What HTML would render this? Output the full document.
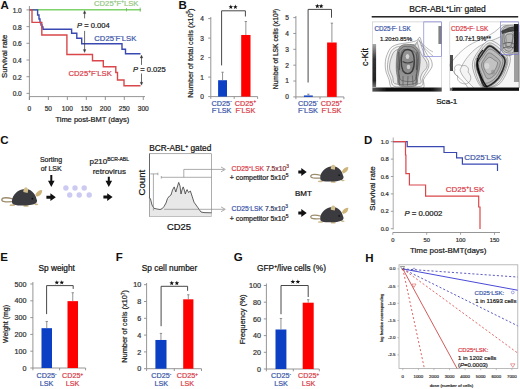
<!DOCTYPE html>
<html><head><meta charset="utf-8"><style>
html,body{margin:0;padding:0;background:#fff;}
body{width:520px;height:389px;overflow:hidden;}
svg{display:block;}
text{font-family:"Liberation Sans", sans-serif;}
</style></head><body>
<svg width="520" height="389" viewBox="0 0 520 389" font-family='"Liberation Sans", sans-serif'>
<text x="0.4" y="8.8" font-size="11.5" text-anchor="start" fill="#111" font-weight="bold" >A</text><line x1="29.4" y1="6" x2="29.4" y2="100" stroke="#8a8a8a" stroke-width="0.9" /><line x1="29.4" y1="96.6" x2="145" y2="96.6" stroke="#8a8a8a" stroke-width="0.9" /><line x1="26.5" y1="93.4" x2="29.4" y2="93.4" stroke="#8a8a8a" stroke-width="0.9" /><text x="21.8" y="96.30000000000001" font-size="6.6" text-anchor="end" fill="#333" font-weight="normal" stroke="#333" stroke-width="0.22" >0.0</text><line x1="26.5" y1="76.7" x2="29.4" y2="76.7" stroke="#8a8a8a" stroke-width="0.9" /><text x="21.8" y="79.60000000000001" font-size="6.6" text-anchor="end" fill="#333" font-weight="normal" stroke="#333" stroke-width="0.22" >0.2</text><line x1="26.5" y1="60.00000000000001" x2="29.4" y2="60.00000000000001" stroke="#8a8a8a" stroke-width="0.9" /><text x="21.8" y="62.900000000000006" font-size="6.6" text-anchor="end" fill="#333" font-weight="normal" stroke="#333" stroke-width="0.22" >0.4</text><line x1="26.5" y1="43.300000000000004" x2="29.4" y2="43.300000000000004" stroke="#8a8a8a" stroke-width="0.9" /><text x="21.8" y="46.2" font-size="6.6" text-anchor="end" fill="#333" font-weight="normal" stroke="#333" stroke-width="0.22" >0.6</text><line x1="26.5" y1="26.60000000000001" x2="29.4" y2="26.60000000000001" stroke="#8a8a8a" stroke-width="0.9" /><text x="21.8" y="29.500000000000007" font-size="6.6" text-anchor="end" fill="#333" font-weight="normal" stroke="#333" stroke-width="0.22" >0.8</text><line x1="26.5" y1="9.900000000000006" x2="29.4" y2="9.900000000000006" stroke="#8a8a8a" stroke-width="0.9" /><text x="21.8" y="12.800000000000006" font-size="6.6" text-anchor="end" fill="#333" font-weight="normal" stroke="#333" stroke-width="0.22" >1.0</text><line x1="29.4" y1="96.6" x2="29.4" y2="100" stroke="#8a8a8a" stroke-width="0.9" /><text x="29.4" y="111" font-size="6.6" text-anchor="middle" fill="#333" font-weight="normal" stroke="#333" stroke-width="0.22" >0</text><line x1="48.379999999999995" y1="96.6" x2="48.379999999999995" y2="100" stroke="#8a8a8a" stroke-width="0.9" /><text x="48.379999999999995" y="111" font-size="6.6" text-anchor="middle" fill="#333" font-weight="normal" stroke="#333" stroke-width="0.22" >50</text><line x1="67.36" y1="96.6" x2="67.36" y2="100" stroke="#8a8a8a" stroke-width="0.9" /><text x="67.36" y="111" font-size="6.6" text-anchor="middle" fill="#333" font-weight="normal" stroke="#333" stroke-width="0.22" >100</text><line x1="86.34" y1="96.6" x2="86.34" y2="100" stroke="#8a8a8a" stroke-width="0.9" /><text x="86.34" y="111" font-size="6.6" text-anchor="middle" fill="#333" font-weight="normal" stroke="#333" stroke-width="0.22" >150</text><line x1="105.32" y1="96.6" x2="105.32" y2="100" stroke="#8a8a8a" stroke-width="0.9" /><text x="105.32" y="111" font-size="6.6" text-anchor="middle" fill="#333" font-weight="normal" stroke="#333" stroke-width="0.22" >200</text><line x1="124.30000000000001" y1="96.6" x2="124.30000000000001" y2="100" stroke="#8a8a8a" stroke-width="0.9" /><text x="124.30000000000001" y="111" font-size="6.6" text-anchor="middle" fill="#333" font-weight="normal" stroke="#333" stroke-width="0.22" >250</text><line x1="143.28" y1="96.6" x2="143.28" y2="100" stroke="#8a8a8a" stroke-width="0.9" /><text x="143.28" y="111" font-size="6.6" text-anchor="middle" fill="#333" font-weight="normal" stroke="#333" stroke-width="0.22" >300</text><text x="92.3" y="121.6" font-size="7.5" text-anchor="middle" fill="#222" font-weight="normal" stroke="#222" stroke-width="0.22" >Time post-BMT (days)</text><text x="7" y="56.3" font-size="7.8" text-anchor="middle" fill="#222" font-weight="normal" stroke="#222" stroke-width="0.22" transform="rotate(-90 7 56.3)" >Survival rate</text><path d="M29.4 9.7 H141" stroke="#7ed36a" stroke-width="1.4" fill="none" /><line x1="140.2" y1="7.6" x2="140.2" y2="11.8" stroke="#6cb85a" stroke-width="0.8" /><line x1="126.5" y1="8" x2="126.5" y2="11.4" stroke="#6cb85a" stroke-width="0.8" /><path d="M29.4 9.9 H37.6 V15 H39 V19 H40 V22.5 H41 V25 H42 V27 H43 V29.2 H71.6 V33.3 H76.8 V38.2 H81.7 V43.7 H122 V49.2 H125.5 V53.7 H140.5" stroke="#3a48b2" stroke-width="1.4" fill="none" /><path d="M29.4 9.9 H32 V22.4 H41.8 V35 H66.9 V54.5 H92.5 V60.8 H103.3 V66.7 H115.8 V72.5 H117.5 V80 H124 V85.8 H140.5" stroke="#d9474a" stroke-width="1.4" fill="none" /><line x1="84.6" y1="12.1" x2="84.6" y2="18.4" stroke="#3a3a3a" stroke-width="0.75" /><line x1="84.6" y1="30.9" x2="84.6" y2="51.1" stroke="#3a3a3a" stroke-width="0.75" /><path d="M83.3 13.6 L84.6 10.6 L85.89999999999999 13.6 Z" stroke="#3a3a3a" stroke-width="0.3" fill="#3a3a3a" /><path d="M83.3 49.6 L84.6 52.6 L85.89999999999999 49.6 Z" stroke="#3a3a3a" stroke-width="0.3" fill="#3a3a3a" /><line x1="141.5" y1="56.5" x2="141.5" y2="64.9" stroke="#3a3a3a" stroke-width="0.75" /><line x1="141.5" y1="73.5" x2="141.5" y2="83.7" stroke="#3a3a3a" stroke-width="0.75" /><path d="M140.2 58 L141.5 55 L142.8 58 Z" stroke="#3a3a3a" stroke-width="0.3" fill="#3a3a3a" /><path d="M140.2 82.2 L141.5 85.2 L142.8 82.2 Z" stroke="#3a3a3a" stroke-width="0.3" fill="#3a3a3a" /><text x="77" y="28.4" font-size="7.6" text-anchor="start" fill="#222" font-weight="normal" stroke="#222" stroke-width="0.22" ><tspan font-style="italic">P</tspan> = 0.004</text><text x="133" y="72.2" font-size="7.6" text-anchor="start" fill="#222" font-weight="normal" stroke="#222" stroke-width="0.22" ><tspan font-style="italic">P</tspan> = 0.025</text><text x="94.0" y="6.1" font-size="7.7" text-anchor="start" fill="#96c886" font-weight="normal" stroke="#96c886" stroke-width="0.22" >CD25<tspan dy="-2.93" font-size="4.77">+</tspan><tspan dy="2.93">​</tspan>F<tspan dy="-2.93" font-size="4.77">+</tspan><tspan dy="2.93">​</tspan>LSK</text><text x="94.3" y="40.6" font-size="7.7" text-anchor="start" fill="#4058a8" font-weight="normal" stroke="#4058a8" stroke-width="0.22" >CD25<tspan dy="-2.93" font-size="4.77">-</tspan><tspan dy="2.93">​</tspan>F<tspan dy="-2.93" font-size="4.77">-</tspan><tspan dy="2.93">​</tspan>LSK</text><text x="68.5" y="75.5" font-size="7.7" text-anchor="start" fill="#d8404a" font-weight="normal" stroke="#d8404a" stroke-width="0.22" >CD25<tspan dy="-2.93" font-size="4.77">+</tspan><tspan dy="2.93">​</tspan>F<tspan dy="-2.93" font-size="4.77">-</tspan><tspan dy="2.93">​</tspan>LSK</text><text x="178.4" y="9.2" font-size="11.5" text-anchor="start" fill="#111" font-weight="bold" >B</text><line x1="210.8" y1="96.6" x2="210.8" y2="17" stroke="#8a8a8a" stroke-width="0.9" /><line x1="210.8" y1="96.6" x2="257.6" y2="96.6" stroke="#8a8a8a" stroke-width="0.9" /><line x1="210.8" y1="96.6" x2="210.8" y2="98.89999999999999" stroke="#8a8a8a" stroke-width="0.9" /><line x1="234.2" y1="96.6" x2="234.2" y2="98.89999999999999" stroke="#8a8a8a" stroke-width="0.9" /><line x1="257.6" y1="96.6" x2="257.6" y2="98.89999999999999" stroke="#8a8a8a" stroke-width="0.9" /><line x1="208.20000000000002" y1="96.6" x2="210.8" y2="96.6" stroke="#8a8a8a" stroke-width="0.9" /><text x="203.8" y="99.0" font-size="6.6" text-anchor="end" fill="#333" font-weight="normal" stroke="#333" stroke-width="0.22" >0</text><line x1="208.20000000000002" y1="77.1" x2="210.8" y2="77.1" stroke="#8a8a8a" stroke-width="0.9" /><text x="203.8" y="79.5" font-size="6.6" text-anchor="end" fill="#333" font-weight="normal" stroke="#333" stroke-width="0.22" >1</text><line x1="208.20000000000002" y1="57.599999999999994" x2="210.8" y2="57.599999999999994" stroke="#8a8a8a" stroke-width="0.9" /><text x="203.8" y="59.99999999999999" font-size="6.6" text-anchor="end" fill="#333" font-weight="normal" stroke="#333" stroke-width="0.22" >2</text><line x1="208.20000000000002" y1="38.099999999999994" x2="210.8" y2="38.099999999999994" stroke="#8a8a8a" stroke-width="0.9" /><text x="203.8" y="40.49999999999999" font-size="6.6" text-anchor="end" fill="#333" font-weight="normal" stroke="#333" stroke-width="0.22" >3</text><line x1="208.20000000000002" y1="18.599999999999994" x2="210.8" y2="18.599999999999994" stroke="#8a8a8a" stroke-width="0.9" /><text x="203.8" y="20.999999999999993" font-size="6.6" text-anchor="end" fill="#333" font-weight="normal" stroke="#333" stroke-width="0.22" >4</text><rect x="218.1" y="80.22" width="8.900000000000006" height="16.379999999999995" fill="#0b3fc4" /><line x1="222.55" y1="80.22" x2="222.55" y2="72.225" stroke="#777" stroke-width="0.8" /><line x1="221.35000000000002" y1="72.225" x2="223.75" y2="72.225" stroke="#777" stroke-width="0.8" /><rect x="241.2" y="34.97999999999999" width="9.300000000000011" height="61.620000000000005" fill="#ff0000" /><line x1="245.85" y1="34.97999999999999" x2="245.85" y2="21.52499999999999" stroke="#777" stroke-width="0.8" /><line x1="244.65" y1="21.52499999999999" x2="247.04999999999998" y2="21.52499999999999" stroke="#777" stroke-width="0.8" /><path d="M221.6 65.4 V10.8 H245.4 V16.5" stroke="#333" stroke-width="0.9" fill="none" /><polygon points="230.83,4.53 231.43,6.15 233.16,6.23 231.81,7.30 232.27,8.96 230.83,8.01 229.39,8.96 229.85,7.30 228.50,6.23 230.23,6.15" fill="#111"/><polygon points="235.37,4.53 235.97,6.15 237.70,6.23 236.35,7.30 236.81,8.96 235.37,8.01 233.93,8.96 234.39,7.30 233.04,6.23 234.77,6.15" fill="#111"/><text x="192.9" y="53.1" font-size="7.45" text-anchor="middle" fill="#222" font-weight="normal" stroke="#222" stroke-width="0.22" transform="rotate(-90 192.9 53.1)" >Number of total cells (x10<tspan dy="-2.83" font-size="4.62">5</tspan><tspan dy="2.83">​</tspan>)</text><line x1="295.9" y1="96.9" x2="295.9" y2="16" stroke="#8a8a8a" stroke-width="0.9" /><line x1="295.9" y1="96.9" x2="343.9" y2="96.9" stroke="#8a8a8a" stroke-width="0.9" /><line x1="295.9" y1="96.9" x2="295.9" y2="99.2" stroke="#8a8a8a" stroke-width="0.9" /><line x1="320" y1="96.9" x2="320" y2="99.2" stroke="#8a8a8a" stroke-width="0.9" /><line x1="343.9" y1="96.9" x2="343.9" y2="99.2" stroke="#8a8a8a" stroke-width="0.9" /><line x1="293.29999999999995" y1="96.9" x2="295.9" y2="96.9" stroke="#8a8a8a" stroke-width="0.9" /><text x="288.8" y="99.30000000000001" font-size="6.6" text-anchor="end" fill="#333" font-weight="normal" stroke="#333" stroke-width="0.22" >0</text><line x1="293.29999999999995" y1="81.04" x2="295.9" y2="81.04" stroke="#8a8a8a" stroke-width="0.9" /><text x="288.8" y="83.44000000000001" font-size="6.6" text-anchor="end" fill="#333" font-weight="normal" stroke="#333" stroke-width="0.22" >1</text><line x1="293.29999999999995" y1="65.18" x2="295.9" y2="65.18" stroke="#8a8a8a" stroke-width="0.9" /><text x="288.8" y="67.58000000000001" font-size="6.6" text-anchor="end" fill="#333" font-weight="normal" stroke="#333" stroke-width="0.22" >2</text><line x1="293.29999999999995" y1="49.32000000000001" x2="295.9" y2="49.32000000000001" stroke="#8a8a8a" stroke-width="0.9" /><text x="288.8" y="51.720000000000006" font-size="6.6" text-anchor="end" fill="#333" font-weight="normal" stroke="#333" stroke-width="0.22" >3</text><line x1="293.29999999999995" y1="33.46000000000001" x2="295.9" y2="33.46000000000001" stroke="#8a8a8a" stroke-width="0.9" /><text x="288.8" y="35.86000000000001" font-size="6.6" text-anchor="end" fill="#333" font-weight="normal" stroke="#333" stroke-width="0.22" >4</text><line x1="293.29999999999995" y1="17.60000000000001" x2="295.9" y2="17.60000000000001" stroke="#8a8a8a" stroke-width="0.9" /><text x="288.8" y="20.000000000000007" font-size="6.6" text-anchor="end" fill="#333" font-weight="normal" stroke="#333" stroke-width="0.22" >5</text><rect x="303.9" y="95.4726" width="8.900000000000034" height="1.4274000000000058" fill="#0b3fc4" /><line x1="308.35" y1="95.4726" x2="308.35" y2="94.2038" stroke="#777" stroke-width="0.8" /><line x1="307.15000000000003" y1="94.2038" x2="309.55" y2="94.2038" stroke="#777" stroke-width="0.8" /><rect x="327.1" y="42.50020000000001" width="9.599999999999966" height="54.3998" fill="#ff0000" /><line x1="331.9" y1="42.50020000000001" x2="331.9" y2="23.150999999999996" stroke="#777" stroke-width="0.8" /><line x1="330.7" y1="23.150999999999996" x2="333.09999999999997" y2="23.150999999999996" stroke="#777" stroke-width="0.8" /><path d="M308.1 82.5 V9.4 H331.5 V17.7" stroke="#333" stroke-width="0.9" fill="none" /><polygon points="317.33,3.73 317.93,5.35 319.66,5.43 318.31,6.50 318.77,8.16 317.33,7.21 315.89,8.16 316.35,6.50 315.00,5.43 316.73,5.35" fill="#111"/><polygon points="321.17,3.73 321.77,5.35 323.50,5.43 322.15,6.50 322.61,8.16 321.17,7.21 319.73,8.16 320.19,6.50 318.84,5.43 320.57,5.35" fill="#111"/><text x="278.4" y="49" font-size="6.7" text-anchor="middle" fill="#222" font-weight="normal" stroke="#222" stroke-width="0.22" transform="rotate(-90 278.4 49)" >Number of LSK cells (x10<tspan dy="-2.55" font-size="4.15">3</tspan><tspan dy="2.55">​</tspan>)</text><text x="221.6" y="105.8" font-size="7.3" text-anchor="middle" fill="#4058a8" font-weight="normal" stroke="#4058a8" stroke-width="0.22" >CD25<tspan dy="-2.77" font-size="4.53">-</tspan><tspan dy="2.77">​</tspan></text><text x="221.6" y="113.0" font-size="7.3" text-anchor="middle" fill="#4058a8" font-weight="normal" stroke="#4058a8" stroke-width="0.22" >F<tspan dy="-2.77" font-size="4.53">-</tspan><tspan dy="2.77">​</tspan>LSK</text><text x="245.4" y="105.8" font-size="7.3" text-anchor="middle" fill="#d8404a" font-weight="normal" stroke="#d8404a" stroke-width="0.22" >CD25<tspan dy="-2.77" font-size="4.53">+</tspan><tspan dy="2.77">​</tspan></text><text x="245.4" y="113.0" font-size="7.3" text-anchor="middle" fill="#d8404a" font-weight="normal" stroke="#d8404a" stroke-width="0.22" >F<tspan dy="-2.77" font-size="4.53">-</tspan><tspan dy="2.77">​</tspan>LSK</text><text x="308" y="105.8" font-size="7.3" text-anchor="middle" fill="#4058a8" font-weight="normal" stroke="#4058a8" stroke-width="0.22" >CD25<tspan dy="-2.77" font-size="4.53">-</tspan><tspan dy="2.77">​</tspan></text><text x="308" y="113.0" font-size="7.3" text-anchor="middle" fill="#4058a8" font-weight="normal" stroke="#4058a8" stroke-width="0.22" >F<tspan dy="-2.77" font-size="4.53">-</tspan><tspan dy="2.77">​</tspan>LSK</text><text x="331.5" y="105.8" font-size="7.3" text-anchor="middle" fill="#d8404a" font-weight="normal" stroke="#d8404a" stroke-width="0.22" >CD25<tspan dy="-2.77" font-size="4.53">+</tspan><tspan dy="2.77">​</tspan></text><text x="331.5" y="113.0" font-size="7.3" text-anchor="middle" fill="#d8404a" font-weight="normal" stroke="#d8404a" stroke-width="0.22" >F<tspan dy="-2.77" font-size="4.53">-</tspan><tspan dy="2.77">​</tspan>LSK</text><text x="447.5" y="11.9" font-size="8.5" text-anchor="middle" fill="#111" font-weight="normal" stroke="#111" stroke-width="0.22" >BCR-ABL<tspan dy="-3.23" font-size="5.27">+</tspan><tspan dy="3.23">​</tspan>Lin<tspan dy="-3.23" font-size="5.27">-</tspan><tspan dy="3.23">​</tspan> gated</text><rect x="371.7" y="16.1" width="146.5" height="1.4" fill="#111" /><text x="368" y="57.1" font-size="9" text-anchor="middle" fill="#111" font-weight="normal" stroke="#111" stroke-width="0.22" transform="rotate(-90 368 57.1)" >c-Kit</text><text x="446.8" y="103.6" font-size="8.1" text-anchor="middle" fill="#111" font-weight="normal" stroke="#111" stroke-width="0.22" >Sca-1</text><defs>
<radialGradient id="core1" cx="0.5" cy="0.5" r="0.5"><stop offset="0" stop-color="#6a6a6a"/><stop offset="0.5" stop-color="#8a8a8a"/><stop offset="0.8" stop-color="#bdbdbd"/><stop offset="1" stop-color="#e8e8e8" stop-opacity="0"/></radialGradient>
<radialGradient id="core2" cx="0.5" cy="0.5" r="0.5"><stop offset="0" stop-color="#222"/><stop offset="0.5" stop-color="#444"/><stop offset="1" stop-color="#666" stop-opacity="0"/></radialGradient>
<linearGradient id="bandH" x1="0" y1="0" x2="1" y2="0"><stop offset="0" stop-color="#555"/><stop offset="0.2" stop-color="#111"/><stop offset="0.85" stop-color="#111"/><stop offset="1" stop-color="#555"/></linearGradient>
<linearGradient id="bandV" x1="0" y1="0" x2="0" y2="1"><stop offset="0" stop-color="#aaa"/><stop offset="0.35" stop-color="#333"/><stop offset="0.85" stop-color="#222"/><stop offset="1" stop-color="#777"/></linearGradient>
</defs><rect x="372.3" y="21.9" width="69.4" height="69.6" fill="#fff" stroke="#c4c4c4" stroke-width="0.6"/><defs><filter id="fb" x="-5%" y="-5%" width="110%" height="110%"><feGaussianBlur stdDeviation="0.45"/></filter><filter id="fb2" x="-20%" y="-20%" width="140%" height="140%"><feGaussianBlur stdDeviation="0.6"/></filter></defs><g filter="url(#fb)"><path d="M385.8 58.7 C386.6 55.1 388.4 50.9 390.2 48.6 C391.9 46.3 394.0 45.7 396.0 44.9 C398.1 44.0 400.3 43.9 402.6 43.5 C404.8 43.1 407.2 42.9 409.5 42.4 C411.9 41.9 414.8 41.4 416.6 40.6 C418.3 39.7 418.9 36.5 419.9 37.3 C420.9 38.2 421.4 42.9 422.6 45.7 C423.8 48.6 425.7 52.1 427.1 54.4 C428.5 56.8 430.3 57.9 431.1 59.9 C431.9 61.9 432.6 64.2 432.0 66.5 C431.4 68.9 428.7 71.6 427.4 73.8 C426.0 76.0 424.4 77.2 423.6 79.6 C422.9 82.0 425.6 86.8 422.8 88.3 C420.0 89.9 411.8 89.1 406.7 89.0 C401.6 88.9 395.1 89.4 392.1 87.9 C389.2 86.3 390.1 82.6 389.0 79.6 C388.0 76.5 386.1 73.2 385.6 69.7 C385.0 66.2 385.1 62.2 385.8 58.7 Z" stroke="#555" stroke-width="0.45" fill="#fbfbfb" /><path d="M388.3 59.6 C388.9 56.5 390.1 52.9 391.5 50.8 C393.0 48.7 395.0 47.7 397.1 46.9 C399.1 46.1 401.6 46.3 403.7 45.9 C405.8 45.6 407.4 45.3 409.4 44.9 C411.5 44.6 414.4 44.7 416.0 43.9 C417.6 43.0 418.0 39.1 418.9 39.7 C419.9 40.3 420.9 45.0 421.9 47.6 C422.9 50.2 423.9 53.3 424.9 55.5 C426.0 57.6 427.6 58.7 428.3 60.6 C428.9 62.5 429.1 65.0 428.6 67.1 C428.1 69.2 426.3 71.4 425.3 73.3 C424.3 75.2 423.3 76.3 422.7 78.4 C422.1 80.5 424.2 84.5 421.6 85.9 C419.0 87.3 411.7 86.6 407.1 86.7 C402.5 86.7 396.6 87.6 393.8 86.2 C391.1 84.9 391.8 81.5 390.8 78.8 C389.7 76.0 388.1 73.0 387.7 69.8 C387.2 66.6 387.6 62.8 388.3 59.6 Z" stroke="#555" stroke-width="0.45" fill="#f3f3f3" /><path d="M390.3 60.9 C391.0 58.1 392.4 54.1 393.7 52.2 C395.0 50.3 396.5 50.1 398.1 49.4 C399.7 48.7 401.5 48.4 403.3 48.0 C405.2 47.5 407.2 47.1 409.1 46.8 C410.9 46.5 413.2 47.0 414.6 46.3 C415.9 45.6 416.2 41.9 417.0 42.5 C417.9 43.2 418.8 48.1 419.7 50.4 C420.6 52.7 421.5 54.5 422.6 56.3 C423.7 58.2 425.5 59.8 426.2 61.6 C427.0 63.4 427.5 65.4 426.9 67.2 C426.3 69.0 423.9 70.6 422.8 72.3 C421.7 74.1 420.9 75.8 420.5 77.6 C420.0 79.4 422.6 82.2 420.3 83.3 C418.0 84.3 410.9 84.1 406.7 84.1 C402.4 84.2 397.1 84.8 394.7 83.6 C392.4 82.4 393.5 79.4 392.7 77.0 C391.9 74.6 390.1 71.8 389.7 69.1 C389.3 66.4 389.7 63.7 390.3 60.9 Z" stroke="#555" stroke-width="0.45" fill="#e6e6e6" /><defs><linearGradient id="core1v" x1="0" y1="0" x2="0" y2="1"><stop offset="0" stop-color="#9a9a9a"/><stop offset="0.55" stop-color="#868686"/><stop offset="1" stop-color="#a8a8a8"/></linearGradient></defs><path d="M397.9 50.0 C398.9 47.9 400.6 46.1 402.3 45.1 C404.0 44.2 406.0 44.4 408.0 44.4 C410.0 44.4 412.3 44.3 414.1 45.2 C415.9 46.2 417.7 48.0 418.7 50.2 C419.8 52.3 420.1 55.2 420.2 58.2 C420.4 61.1 420.0 64.6 419.6 67.9 C419.2 71.3 418.4 75.1 417.8 78.1 C417.1 81.0 418.7 84.5 415.7 85.7 C412.7 87.0 402.9 87.1 399.8 85.8 C396.8 84.5 398.0 80.7 397.4 77.7 C396.8 74.7 396.3 71.1 396.2 67.8 C396.1 64.5 396.3 60.9 396.6 57.9 C396.8 55.0 397.0 52.2 397.9 50.0 Z" stroke="#555" stroke-width="0.5" fill="url(#core1v)" /><path d="M398.4 52.5 C399.2 50.4 401.4 47.9 402.9 47.0 C404.4 46.0 405.9 46.6 407.6 46.7 C409.3 46.7 411.4 46.3 413.1 47.4 C414.8 48.4 416.9 50.8 417.8 52.7 C418.7 54.6 418.5 56.5 418.5 58.9 C418.5 61.3 418.0 64.2 417.6 67.1 C417.3 70.0 416.9 73.5 416.5 76.2 C416.2 78.8 418.3 81.7 415.6 83.1 C412.8 84.4 403.0 85.5 400.2 84.3 C397.4 83.1 399.2 78.9 398.8 76.0 C398.4 73.1 398.1 69.7 397.9 67.0 C397.8 64.3 398.1 62.1 398.2 59.7 C398.3 57.3 397.7 54.6 398.4 52.5 Z" stroke="#444" stroke-width="0.5" fill="none" /><path d="M401.0 54.2 C401.5 52.5 402.0 50.5 403.1 49.8 C404.1 49.1 405.9 49.8 407.5 49.9 C409.1 50.1 411.2 50.3 412.6 50.9 C414.0 51.4 414.9 51.8 415.7 53.4 C416.5 55.0 417.3 58.3 417.6 60.7 C417.9 63.1 417.7 65.5 417.5 68.0 C417.2 70.5 416.7 73.3 416.1 75.5 C415.5 77.7 416.0 80.4 413.6 81.2 C411.2 82.1 404.1 81.5 401.7 80.4 C399.3 79.4 399.7 76.9 399.3 74.8 C398.8 72.7 398.7 70.3 398.9 67.8 C399.0 65.3 399.9 62.1 400.2 59.8 C400.6 57.6 400.5 55.8 401.0 54.2 Z" stroke="#444" stroke-width="0.5" fill="none" /><path d="M404 51 C400.5 55 400.5 66 403 71 C405.5 74.5 410 74.5 412.3 71 C415 66 415 55 411.5 51 C409.5 49 406 49 404 51 Z" stroke="#1a1a1a" stroke-width="1.4" fill="none" opacity="0.7"/><path d="M402.5 61.5 C406 63.5 409.5 63.5 413 61.5" stroke="#222" stroke-width="1.1" fill="none" opacity="0.7"/><ellipse cx="407.5" cy="56.5" rx="1.8" ry="2.6" fill="#d4d4d4"/><ellipse cx="408.5" cy="67" rx="1.8" ry="2.3" fill="#cccccc"/><path d="M399 52 L399.5 70 M417 52 L416.5 70" stroke="#333" stroke-width="1.0" fill="none" opacity="0.6"/><path d="M399 75 L399.5 85 M403 76 L403 85.5 M408 76 L407.5 85.5 M412.5 75.5 L413 85 M416.5 74 L416 85" stroke="#555" stroke-width="0.7" fill="none" /><path d="M419 41 C423 44 428 50 433 52 M421 45 C425 48 429 53 433 56" stroke="#666" stroke-width="0.45" fill="none" /><rect x="372.5" y="44" width="3.6" height="43" fill="url(#bandV)" /><rect x="372.5" y="87.5" width="69.2" height="4" fill="url(#bandH)" /><rect x="438.4" y="26" width="3.2" height="18" fill="#555" opacity="0.75"/></g><rect x="423.8" y="21.9" width="17.9" height="34.6" fill="none" stroke="#7070d0" stroke-width="0.6"/><text x="374.4" y="31.2" font-size="6.3" text-anchor="start" fill="#4058a8" font-weight="normal" stroke="#4058a8" stroke-width="0.22" >CD25<tspan dy="-2.43" font-size="3.97">-</tspan><tspan dy="2.43">​</tspan>F<tspan dy="-2.43" font-size="3.97">-</tspan><tspan dy="2.43">​</tspan> LSK</text><text x="380" y="41.1" font-size="6.0" text-anchor="start" fill="#222" font-weight="normal" stroke="#222" stroke-width="0.22" >1.20±0.85%</text><rect x="449.8" y="21.9" width="69" height="68.8" fill="#fff" stroke="#c4c4c4" stroke-width="0.6"/><g filter="url(#fb)"><path d="M450 64 C456 56 462 50 468 46 C474 42 480 40 486 37 C492 34 498 30 502 25 L519 25 L519 88 L468 88 C466 84 462 80 458 77 C455 74 452 70 450 66 Z" stroke="#666" stroke-width="0.45" fill="#fcfcfc" /><path d="M460 70 C464 60 471 52 478 47 C486 42 494 40 500 37 C506 34 512 33 519 32 L519 88 L474 88 C468 82 462 77 460 70 Z" stroke="#666" stroke-width="0.45" fill="#f4f4f4" /><path d="M489.6 40.3 C493.8 40.0 500.2 45.8 503.6 49.0 C507.1 52.3 510.8 54.5 510.3 60.1 C509.9 65.7 505.1 77.9 500.8 82.6 C496.5 87.3 488.4 88.3 484.5 88.0 C480.6 87.7 479.3 84.9 477.3 81.0 C475.3 77.1 472.2 69.5 472.4 64.5 C472.5 59.6 475.4 55.3 478.3 51.3 C481.2 47.3 485.4 40.7 489.6 40.3 Z" stroke="#555" stroke-width="0.45" fill="#f2f2f2" /><path d="M489.7 42.9 C493.4 42.7 498.9 47.9 501.9 50.9 C505.0 54.0 508.3 56.2 508.0 61.3 C507.6 66.3 503.5 76.9 499.8 81.3 C496.0 85.8 489.1 88.3 485.5 88.0 C481.9 87.7 480.1 83.8 478.2 79.8 C476.4 75.8 474.2 68.5 474.4 63.9 C474.7 59.3 477.1 55.7 479.6 52.2 C482.1 48.7 485.9 43.1 489.7 42.9 Z" stroke="#555" stroke-width="0.45" fill="#e4e4e4" /><path d="M489.6 45.0 C492.8 44.8 497.3 49.9 500.2 52.6 C503.1 55.4 507.1 57.0 506.9 61.5 C506.7 65.9 502.5 75.0 498.8 79.4 C495.2 83.8 488.3 88.1 485.2 87.8 C482.0 87.6 481.5 81.8 479.9 78.0 C478.3 74.1 475.6 68.7 475.8 64.7 C475.9 60.7 478.7 57.4 481.0 54.2 C483.3 50.9 486.4 45.3 489.6 45.0 Z" stroke="#444" stroke-width="0.5" fill="#cfcfcf" /><path d="M489.5 46.1 C492.5 45.8 496.9 50.6 499.6 53.2 C502.2 55.8 505.4 57.5 505.1 61.7 C504.9 65.8 501.4 74.1 498.2 78.3 C494.9 82.4 488.6 87.0 485.6 86.7 C482.6 86.5 481.7 80.6 480.2 76.9 C478.8 73.2 476.6 68.3 476.9 64.6 C477.1 61.0 479.5 58.0 481.7 55.0 C483.8 51.9 486.5 46.4 489.5 46.1 Z" stroke="#2a2a2a" stroke-width="1.6" fill="#b4b4b4" /><path d="M489.4 49.2 C491.9 48.8 496.0 52.2 498.3 54.3 C500.5 56.4 503.2 57.9 502.9 61.6 C502.6 65.4 499.1 73.2 496.3 76.8 C493.4 80.4 488.3 83.5 485.9 83.2 C483.5 83.0 483.3 78.3 482.1 75.2 C480.9 72.1 478.3 67.6 478.5 64.5 C478.7 61.4 481.2 59.3 483.0 56.7 C484.9 54.1 486.9 49.6 489.4 49.2 Z" stroke="#555" stroke-width="0.5" fill="#bcbcbc" /><path d="M488.9 52.9 C490.8 52.7 494.0 55.4 495.9 57.0 C497.8 58.7 500.4 60.0 500.4 62.8 C500.3 65.6 497.6 71.4 495.5 74.1 C493.4 76.7 489.9 79.1 487.9 78.9 C486.0 78.7 485.0 75.1 483.9 72.7 C482.8 70.4 481.3 67.3 481.4 64.9 C481.5 62.5 483.3 60.4 484.5 58.4 C485.8 56.4 487.0 53.2 488.9 52.9 Z" stroke="#555" stroke-width="0.5" fill="#b0b0b0" /><path d="M489.6 57.3 C491.2 57.2 493.4 59.4 494.7 60.3 C496.0 61.3 497.7 61.2 497.6 63.1 C497.5 65.0 495.3 69.9 493.8 71.7 C492.3 73.5 490.1 74.3 488.7 74.1 C487.2 73.9 485.9 71.9 485.0 70.3 C484.1 68.6 483.3 65.9 483.4 64.3 C483.5 62.7 484.5 61.8 485.6 60.6 C486.6 59.5 488.1 57.3 489.6 57.3 Z" stroke="#555" stroke-width="0.5" fill="#c2c2c2" /><path d="M477.5 58 C476.5 65 478.5 72 482 79 C484 83 486 86 487.5 87" stroke="#111" stroke-width="1.6" fill="none" /><path d="M483 50 C480 53 478 56 477.5 60" stroke="#222" stroke-width="1.2" fill="none" /><ellipse cx="487" cy="66" rx="2.5" ry="3" fill="#e0e0e0" opacity="0.7"/><ellipse cx="493" cy="72" rx="2" ry="2.5" fill="#888" opacity="0.6"/><path d="M455 70 C453 66 458 63 462 66 C466 64 470 68 468 72 C472 76 472 82 466 84 C460 84 456 80 458 76 C454 75 454 72 455 70 Z" stroke="#666" stroke-width="0.45" fill="none" /><path d="M503.4 26.6 C504.9 25.6 507.4 25.3 509.5 25.3 C511.7 25.3 514.9 24.6 516.2 26.5 C517.6 28.4 517.6 33.3 517.5 36.7 C517.4 40.0 516.4 43.7 515.6 46.6 C514.8 49.5 514.3 52.5 512.9 54.0 C511.4 55.5 508.6 56.1 506.7 55.5 C504.8 54.8 502.5 52.5 501.5 49.9 C500.6 47.3 501.2 43.0 501.0 39.8 C500.9 36.6 500.2 32.9 500.6 30.7 C501.0 28.5 501.9 27.5 503.4 26.6 Z" stroke="#444" stroke-width="0.5" fill="#dcdcdc" /><path d="M504.2 27.4 C505.5 26.5 508.2 27.0 509.9 27.2 C511.6 27.4 513.3 27.1 514.3 28.7 C515.3 30.3 516.0 33.8 516.0 36.6 C516.0 39.5 514.9 43.1 514.3 45.8 C513.8 48.4 514.2 51.5 512.8 52.6 C511.4 53.7 507.6 53.0 505.9 52.4 C504.2 51.8 503.1 51.0 502.4 48.9 C501.7 46.7 501.9 42.1 501.9 39.5 C501.8 36.8 501.7 34.9 502.1 32.9 C502.5 30.9 502.9 28.4 504.2 27.4 Z" stroke="#444" stroke-width="0.5" fill="#cacaca" /><path d="M505.2 29.9 C506.2 29.3 507.8 29.9 509.2 30.1 C510.7 30.3 513.2 30.1 514.0 31.2 C514.8 32.3 514.0 34.4 514.0 36.6 C514.1 38.7 514.6 41.8 514.2 44.1 C513.7 46.4 512.4 49.3 511.2 50.4 C510.0 51.6 508.4 51.4 507.1 50.9 C505.8 50.4 504.2 49.2 503.5 47.5 C502.8 45.8 502.8 42.8 502.8 40.5 C502.8 38.2 502.9 35.2 503.3 33.5 C503.7 31.7 504.3 30.4 505.2 29.9 Z" stroke="#444" stroke-width="0.5" fill="#bcbcbc" /><path d="M505.8 32.9 C506.6 32.4 508.0 31.3 509.2 31.2 C510.4 31.2 512.3 31.5 512.9 32.5 C513.5 33.5 513.0 35.6 512.9 37.3 C512.7 39.1 512.5 41.2 512.2 42.9 C511.9 44.6 511.7 46.6 510.9 47.4 C510.2 48.3 508.7 48.4 507.7 48.0 C506.7 47.6 505.7 46.5 505.2 45.0 C504.6 43.6 504.5 41.1 504.4 39.3 C504.2 37.5 504.0 35.4 504.3 34.4 C504.5 33.3 504.9 33.4 505.8 32.9 Z" stroke="#444" stroke-width="0.5" fill="#c8c8c8" /><path d="M506.9 34.5 C507.5 34.1 508.1 34.0 509.0 34.0 C509.9 33.9 511.8 33.5 512.4 34.2 C513.0 35.0 512.7 36.9 512.6 38.3 C512.5 39.7 512.2 41.7 511.8 42.9 C511.4 44.1 511.1 45.0 510.5 45.6 C509.8 46.2 508.8 46.9 508.1 46.7 C507.3 46.5 506.3 45.5 506.0 44.5 C505.7 43.4 506.1 41.6 506.1 40.2 C506.0 38.8 505.5 37.1 505.7 36.2 C505.8 35.2 506.4 34.8 506.9 34.5 Z" stroke="#444" stroke-width="0.5" fill="#b8b8b8" /><path d="M501 31 C506 28 511 26.5 518.5 25.5 L518.5 31 C512 31 507 32 502 34 Z" stroke="none" stroke-width="0" fill="#222" opacity="0.75"/><path d="M503 44 C507 42 511 42 514 44 M503 48 C507 46.5 511 46.5 514 48" stroke="#444" stroke-width="0.7" fill="none" /><rect x="514" y="24" width="5" height="28" fill="#111" opacity="0.9"/><rect x="514" y="52" width="5" height="30" fill="#555" opacity="0.55"/><rect x="450" y="55" width="3" height="16" fill="#222" opacity="0.8"/><rect x="452" y="87.6" width="67" height="3.2" fill="#111" /><rect x="450" y="87.8" width="3" height="2.8" fill="#444" opacity="0.8"/></g><rect x="500.6" y="21.9" width="18" height="32.4" fill="none" stroke="#7070d0" stroke-width="0.6"/><text x="450.9" y="31.2" font-size="6.3" text-anchor="start" fill="#d8404a" font-weight="normal" stroke="#d8404a" stroke-width="0.22" >CD25<tspan dy="-2.43" font-size="3.97">+</tspan><tspan dy="2.43">​</tspan>F<tspan dy="-2.43" font-size="3.97">-</tspan><tspan dy="2.43">​</tspan> LSK</text><text x="455.6" y="41.1" font-size="6.4" text-anchor="start" fill="#222" font-weight="normal" stroke="#222" stroke-width="0.22" >10.7±1.9%**</text><text x="0.2" y="143.8" font-size="11.5" text-anchor="start" fill="#111" font-weight="bold" >C</text><g transform="translate(1 186.5) scale(1.0)"><path d="M12 12.5 C7 11 1.5 10.5 0.8 13 C0.4 15.5 5 15.5 11 15.2" stroke="#9c8c6c" stroke-width="1.3" fill="none" /><ellipse cx="11.2" cy="18.7" rx="2.8" ry="0.9" fill="#cdb888"/><ellipse cx="25" cy="19.4" rx="2.8" ry="0.9" fill="#cdb888"/><ellipse cx="35.3" cy="17.9" rx="1.9" ry="0.8" fill="#cdb888"/><path d="M11 16 C10.5 10 15 5 20 3.3 C24 2 28 2.5 31 5 C33.5 7 35 10 35.5 12.5 C36.5 14 36.3 15.8 34.5 17 C31 18.8 24 19.2 17 18.9 C13.5 18.6 11.3 18 11 16 Z" stroke="none" stroke-width="0" fill="#3a3a3f" /><path d="M22.3 5.5 C22.2 2.2 23.8 0.6 25.5 0.9 C27.2 1.3 27.5 3.6 26.6 6.4 Z" stroke="none" stroke-width="0" fill="#d2bf8c" /><path d="M34.3 8.6 C35.2 5.4 38 3.4 41.2 3.4 C41.3 6.5 39.6 9.2 36 10.2 Z" stroke="none" stroke-width="0" fill="#cdb47a" /><circle cx="31.4" cy="12.2" r="0.9" fill="#111"/></g><g transform="translate(310 163.9) scale(0.93)"><path d="M12 12.5 C7 11 1.5 10.5 0.8 13 C0.4 15.5 5 15.5 11 15.2" stroke="#9c8c6c" stroke-width="1.3" fill="none" /><ellipse cx="11.2" cy="18.7" rx="2.8" ry="0.9" fill="#cdb888"/><ellipse cx="25" cy="19.4" rx="2.8" ry="0.9" fill="#cdb888"/><ellipse cx="35.3" cy="17.9" rx="1.9" ry="0.8" fill="#cdb888"/><path d="M11 16 C10.5 10 15 5 20 3.3 C24 2 28 2.5 31 5 C33.5 7 35 10 35.5 12.5 C36.5 14 36.3 15.8 34.5 17 C31 18.8 24 19.2 17 18.9 C13.5 18.6 11.3 18 11 16 Z" stroke="none" stroke-width="0" fill="#3a3a3f" /><path d="M22.3 5.5 C22.2 2.2 23.8 0.6 25.5 0.9 C27.2 1.3 27.5 3.6 26.6 6.4 Z" stroke="none" stroke-width="0" fill="#d2bf8c" /><path d="M34.3 8.6 C35.2 5.4 38 3.4 41.2 3.4 C41.3 6.5 39.6 9.2 36 10.2 Z" stroke="none" stroke-width="0" fill="#cdb47a" /><circle cx="31.4" cy="12.2" r="0.9" fill="#111"/></g><g transform="translate(310 204.6) scale(0.93)"><path d="M12 12.5 C7 11 1.5 10.5 0.8 13 C0.4 15.5 5 15.5 11 15.2" stroke="#9c8c6c" stroke-width="1.3" fill="none" /><ellipse cx="11.2" cy="18.7" rx="2.8" ry="0.9" fill="#cdb888"/><ellipse cx="25" cy="19.4" rx="2.8" ry="0.9" fill="#cdb888"/><ellipse cx="35.3" cy="17.9" rx="1.9" ry="0.8" fill="#cdb888"/><path d="M11 16 C10.5 10 15 5 20 3.3 C24 2 28 2.5 31 5 C33.5 7 35 10 35.5 12.5 C36.5 14 36.3 15.8 34.5 17 C31 18.8 24 19.2 17 18.9 C13.5 18.6 11.3 18 11 16 Z" stroke="none" stroke-width="0" fill="#3a3a3f" /><path d="M22.3 5.5 C22.2 2.2 23.8 0.6 25.5 0.9 C27.2 1.3 27.5 3.6 26.6 6.4 Z" stroke="none" stroke-width="0" fill="#d2bf8c" /><path d="M34.3 8.6 C35.2 5.4 38 3.4 41.2 3.4 C41.3 6.5 39.6 9.2 36 10.2 Z" stroke="none" stroke-width="0" fill="#cdb47a" /><circle cx="31.4" cy="12.2" r="0.9" fill="#111"/></g><text x="51" y="161.8" font-size="7" text-anchor="middle" fill="#222" font-weight="normal" stroke="#222" stroke-width="0.22" >Sorting</text><text x="51.2" y="170.8" font-size="7" text-anchor="middle" fill="#222" font-weight="normal" stroke="#222" stroke-width="0.22" >of LSK</text><path d="M50.3 175 V180.8 H48.0 L51.3 187 L54.599999999999994 180.8 H52.3 V175 Z" stroke="none" stroke-width="0" fill="#111" /><path d="M46.4 195.7 H50.4 V193.29999999999998 L55.8 197.2 L50.4 201.1 V198.7 H46.4 Z" stroke="none" stroke-width="0" fill="#111" /><g filter="url(#fb2)"><circle cx="65.9" cy="188" r="2.7" fill="#cccaf2"/><circle cx="75" cy="188" r="2.7" fill="#cccaf2"/><circle cx="84.2" cy="188" r="2.7" fill="#cccaf2"/><circle cx="69.7" cy="195" r="2.7" fill="#cccaf2"/><circle cx="79.2" cy="195" r="2.7" fill="#cccaf2"/><circle cx="89.2" cy="195" r="2.7" fill="#cccaf2"/></g><text x="109.2" y="164" font-size="8" text-anchor="middle" fill="#222" font-weight="normal" stroke="#222" stroke-width="0.22" >p210<tspan dy="-3" font-size="5">BCR-ABL</tspan><tspan dy="3"></tspan></text><text x="109.3" y="173.6" font-size="8" text-anchor="middle" fill="#222" font-weight="normal" stroke="#222" stroke-width="0.22" >retrovirus</text><path d="M107.8 176.7 V180.8 H105.5 L108.8 187 L112.1 180.8 H109.8 V176.7 Z" stroke="none" stroke-width="0" fill="#111" /><path d="M103.4 195.6 H107.19999999999999 V193.2 L112.6 197.1 L107.19999999999999 201.0 V198.6 H103.4 Z" stroke="none" stroke-width="0" fill="#111" /><text x="180.25" y="151.2" font-size="8.3" text-anchor="middle" fill="#111" font-weight="normal" stroke="#111" stroke-width="0.22" >BCR-ABL<tspan dy="-3.15" font-size="5.15">+</tspan><tspan dy="3.15">​</tspan> gated</text><rect x="149.5" y="153.7" width="62.1" height="62.5" fill="none" stroke="#8a8a8a" stroke-width="0.7"/><line x1="149.5" y1="153.7" x2="149.5" y2="216.2" stroke="#555" stroke-width="0.8" /><path d="M149.5 197.7 L150.5 199 L152 205 L154 208.3 L157 209 L160 209.5 L162 208.8 L164 206.5 L166 203 L167.5 198.5 L169.5 196 L171 195 L172.5 190 L174.2 186.9 L175.8 192 L177 188 L178.7 182.4 L180 186 L181 194 L182 190 L183.2 186.9 L184.3 190 L185.3 194 L186.3 191 L187.1 189.6 L188.5 192.5 L190.4 191 L192 196 L194 202.2 L196 205 L197.6 207.2 L199.5 210 L201 212 L204 212.6 L211.5 212.8 L211.5 216.1 L149.5 216.1 Z" stroke="none" stroke-width="0" fill="#e8e8e8" /><path d="M149.5 197.7 L150.5 199 L152 205 L154 208.3 L157 209 L160 209.5 L162 208.8 L164 206.5 L166 203 L167.5 198.5 L169.5 196 L171 195 L172.5 190 L174.2 186.9 L175.8 192 L177 188 L178.7 182.4 L180 186 L181 194 L182 190 L183.2 186.9 L184.3 190 L185.3 194 L186.3 191 L187.1 189.6 L188.5 192.5 L190.4 191 L192 196 L194 202.2 L196 205 L197.6 207.2 L199.5 210 L201 212 L204 212.6 L211.5 212.8" stroke="#444" stroke-width="0.85" fill="none" /><line x1="153.4" y1="173.9" x2="153.4" y2="210.5" stroke="#888" stroke-width="0.7" /><line x1="150.4" y1="173.9" x2="157.9" y2="173.9" stroke="#888" stroke-width="0.7" /><line x1="157.9" y1="172.6" x2="157.9" y2="175.2" stroke="#888" stroke-width="0.7" /><line x1="161.3" y1="177.3" x2="211.5" y2="177.3" stroke="#888" stroke-width="0.7" /><line x1="161.3" y1="176" x2="161.3" y2="178.6" stroke="#888" stroke-width="0.7" /><line x1="164" y1="209.3" x2="224" y2="209.3" stroke="#888" stroke-width="0.7" /><path d="M183.8 177.3 V169.4 H224" stroke="#888" stroke-width="0.7" fill="none" /><path d="M221 167 L225.3 169.4 L221 171.8" stroke="#888" stroke-width="0.7" fill="none" /><path d="M221 206.9 L225.3 209.3 L221 211.7" stroke="#888" stroke-width="0.7" fill="none" /><text x="144.6" y="182.6" font-size="9.6" text-anchor="middle" fill="#111" font-weight="normal" stroke="#111" stroke-width="0.22" transform="rotate(-90 144.6 182.6)" >Count</text><text x="179.05" y="229.6" font-size="9.4" text-anchor="middle" fill="#111" font-weight="normal" stroke="#111" stroke-width="0.22" >CD25</text><text x="231.6" y="170.9" font-size="6.75" text-anchor="start" fill="#d8404a" font-weight="normal" stroke="#d8404a" stroke-width="0.22" >CD25<tspan dy="-2.56" font-size="4.18">+</tspan><tspan dy="2.56">​</tspan>LSK <tspan fill="#222">7.5x10</tspan><tspan dy="-2.8" font-size="4.9" fill="#222">3</tspan></text><text x="229.8" y="180.2" font-size="7" text-anchor="start" fill="#222" font-weight="normal" stroke="#222" stroke-width="0.22" >+ competitor 5x10<tspan dy="-2.8" font-size="4.9">5</tspan></text><text x="231.6" y="210.9" font-size="6.75" text-anchor="start" fill="#4058a8" font-weight="normal" stroke="#4058a8" stroke-width="0.22" >CD25<tspan dy="-2.56" font-size="4.18">-</tspan><tspan dy="2.56">​</tspan>LSK <tspan fill="#222">7.5x10</tspan><tspan dy="-2.8" font-size="4.9" fill="#222">3</tspan></text><text x="229.8" y="220.6" font-size="7" text-anchor="start" fill="#222" font-weight="normal" stroke="#222" stroke-width="0.22" >+ competitor 5x10<tspan dy="-2.8" font-size="4.9">5</tspan></text><path d="M298.3 170.5 H301.3 V168.1 L306.7 172 L301.3 175.9 V173.5 H298.3 Z" stroke="none" stroke-width="0" fill="#111" /><path d="M298.3 211.5 H301.3 V209.1 L306.7 213 L301.3 216.9 V214.5 H298.3 Z" stroke="none" stroke-width="0" fill="#111" /><text x="303.4" y="196.3" font-size="8" text-anchor="middle" fill="#111" font-weight="normal" stroke="#111" stroke-width="0.22" >BMT</text><text x="364" y="144" font-size="11.5" text-anchor="start" fill="#111" font-weight="bold" >D</text><line x1="393.2" y1="137.5" x2="393.2" y2="229.5" stroke="#a0a0a0" stroke-width="0.9" /><line x1="392.8" y1="232.5" x2="500" y2="232.5" stroke="#8a8a8a" stroke-width="0.9" /><line x1="390.8" y1="228.7" x2="393.2" y2="228.7" stroke="#8a8a8a" stroke-width="0.8" /><text x="388.7" y="230.7" font-size="5.8" text-anchor="end" fill="#333" font-weight="normal" stroke="#333" stroke-width="0.22" >0.0</text><line x1="390.8" y1="211.29999999999998" x2="393.2" y2="211.29999999999998" stroke="#8a8a8a" stroke-width="0.8" /><text x="388.7" y="213.29999999999998" font-size="5.8" text-anchor="end" fill="#333" font-weight="normal" stroke="#333" stroke-width="0.22" >0.2</text><line x1="390.8" y1="193.89999999999998" x2="393.2" y2="193.89999999999998" stroke="#8a8a8a" stroke-width="0.8" /><text x="388.7" y="195.89999999999998" font-size="5.8" text-anchor="end" fill="#333" font-weight="normal" stroke="#333" stroke-width="0.22" >0.4</text><line x1="390.8" y1="176.5" x2="393.2" y2="176.5" stroke="#8a8a8a" stroke-width="0.8" /><text x="388.7" y="178.5" font-size="5.8" text-anchor="end" fill="#333" font-weight="normal" stroke="#333" stroke-width="0.22" >0.6</text><line x1="390.8" y1="159.1" x2="393.2" y2="159.1" stroke="#8a8a8a" stroke-width="0.8" /><text x="388.7" y="161.1" font-size="5.8" text-anchor="end" fill="#333" font-weight="normal" stroke="#333" stroke-width="0.22" >0.8</text><line x1="390.8" y1="141.7" x2="393.2" y2="141.7" stroke="#8a8a8a" stroke-width="0.8" /><text x="388.7" y="143.7" font-size="5.8" text-anchor="end" fill="#333" font-weight="normal" stroke="#333" stroke-width="0.22" >1.0</text><line x1="392.8" y1="232.5" x2="392.8" y2="234.8" stroke="#8a8a8a" stroke-width="0.8" /><text x="392.8" y="241.8" font-size="5.8" text-anchor="middle" fill="#333" font-weight="normal" stroke="#333" stroke-width="0.22" >0</text><line x1="426.7" y1="232.5" x2="426.7" y2="234.8" stroke="#8a8a8a" stroke-width="0.8" /><text x="426.7" y="241.8" font-size="5.8" text-anchor="middle" fill="#333" font-weight="normal" stroke="#333" stroke-width="0.22" >50</text><line x1="460.6" y1="232.5" x2="460.6" y2="234.8" stroke="#8a8a8a" stroke-width="0.8" /><text x="460.6" y="241.8" font-size="5.8" text-anchor="middle" fill="#333" font-weight="normal" stroke="#333" stroke-width="0.22" >100</text><line x1="494.5" y1="232.5" x2="494.5" y2="234.8" stroke="#8a8a8a" stroke-width="0.8" /><text x="494.5" y="241.8" font-size="5.8" text-anchor="middle" fill="#333" font-weight="normal" stroke="#333" stroke-width="0.22" >150</text><text x="448.2" y="252.5" font-size="8" text-anchor="middle" fill="#222" font-weight="normal" stroke="#222" stroke-width="0.22" >Time post-BMT(days)</text><text x="375" y="188.6" font-size="8.0" text-anchor="middle" fill="#222" font-weight="normal" stroke="#222" stroke-width="0.22" transform="rotate(-90 375 188.6)" >Survival rate</text><path d="M393.2 141.7 H407.2 V146.7 H444 V152.5 H456.6 V157.9 H462.4 V164.2 H497.5 V171" stroke="#3a48b2" stroke-width="1.2" fill="none" /><path d="M393.2 141.7 H405.5 V155 H405.9 V173.7 H409.4 V185 H425.6 V196.2 H478.7 V207 H480 V229" stroke="#d9474a" stroke-width="1.2" fill="none" /><text x="404.4" y="215.6" font-size="7.8" text-anchor="start" fill="#222" font-weight="normal" stroke="#222" stroke-width="0.22" ><tspan font-style="italic">P</tspan> = 0.0002</text><text x="464.2" y="160.4" font-size="8.0" text-anchor="start" fill="#4058a8" font-weight="normal" stroke="#4058a8" stroke-width="0.22" >CD25<tspan dy="-3.04" font-size="4.96">-</tspan><tspan dy="3.04">​</tspan>LSK</text><text x="445.8" y="191.9" font-size="8.0" text-anchor="start" fill="#d8404a" font-weight="normal" stroke="#d8404a" stroke-width="0.22" >CD25<tspan dy="-3.04" font-size="4.96">+</tspan><tspan dy="3.04">​</tspan>LSK</text><text x="0.3" y="261.3" font-size="11.5" text-anchor="start" fill="#111" font-weight="bold" >E</text><text x="56.7" y="270.9" font-size="8.3" text-anchor="middle" fill="#111" font-weight="normal" stroke="#111" stroke-width="0.22" >Sp weight</text><line x1="32.9" y1="368" x2="32.9" y2="282" stroke="#8a8a8a" stroke-width="0.9" /><line x1="32.9" y1="368" x2="85.6" y2="368" stroke="#8a8a8a" stroke-width="0.9" /><line x1="32.9" y1="368" x2="32.9" y2="370.3" stroke="#8a8a8a" stroke-width="0.9" /><line x1="59.6" y1="368" x2="59.6" y2="370.3" stroke="#8a8a8a" stroke-width="0.9" /><line x1="85.6" y1="368" x2="85.6" y2="370.3" stroke="#8a8a8a" stroke-width="0.9" /><line x1="30.299999999999997" y1="368.0" x2="32.9" y2="368.0" stroke="#8a8a8a" stroke-width="0.9" /><text x="26.6" y="370.6" font-size="7.2" text-anchor="end" fill="#333" font-weight="normal" stroke="#333" stroke-width="0.22" >0</text><line x1="30.299999999999997" y1="351.2" x2="32.9" y2="351.2" stroke="#8a8a8a" stroke-width="0.9" /><text x="26.6" y="353.8" font-size="7.2" text-anchor="end" fill="#333" font-weight="normal" stroke="#333" stroke-width="0.22" >100</text><line x1="30.299999999999997" y1="334.4" x2="32.9" y2="334.4" stroke="#8a8a8a" stroke-width="0.9" /><text x="26.6" y="337.0" font-size="7.2" text-anchor="end" fill="#333" font-weight="normal" stroke="#333" stroke-width="0.22" >200</text><line x1="30.299999999999997" y1="317.6" x2="32.9" y2="317.6" stroke="#8a8a8a" stroke-width="0.9" /><text x="26.6" y="320.20000000000005" font-size="7.2" text-anchor="end" fill="#333" font-weight="normal" stroke="#333" stroke-width="0.22" >300</text><line x1="30.299999999999997" y1="300.8" x2="32.9" y2="300.8" stroke="#8a8a8a" stroke-width="0.9" /><text x="26.6" y="303.40000000000003" font-size="7.2" text-anchor="end" fill="#333" font-weight="normal" stroke="#333" stroke-width="0.22" >400</text><line x1="30.299999999999997" y1="284.0" x2="32.9" y2="284.0" stroke="#8a8a8a" stroke-width="0.9" /><text x="26.6" y="286.6" font-size="7.2" text-anchor="end" fill="#333" font-weight="normal" stroke="#333" stroke-width="0.22" >500</text><rect x="41.5" y="328.18399999999997" width="10.5" height="39.81600000000003" fill="#0b3fc4" /><line x1="46.75" y1="328.18399999999997" x2="46.75" y2="321.464" stroke="#777" stroke-width="0.8" /><line x1="45.55" y1="321.464" x2="47.95" y2="321.464" stroke="#777" stroke-width="0.8" /><rect x="67.5" y="301.13599999999997" width="10.5" height="66.86400000000003" fill="#ff0000" /><line x1="72.75" y1="301.13599999999997" x2="72.75" y2="292.736" stroke="#777" stroke-width="0.8" /><line x1="71.55" y1="292.736" x2="73.95" y2="292.736" stroke="#777" stroke-width="0.8" /><path d="M46.6 314.1 V285.6 H73.2 V288.9" stroke="#333" stroke-width="0.9" fill="none" /><polygon points="56.83,280.13 57.43,281.75 59.16,281.83 57.81,282.90 58.27,284.56 56.83,283.61 55.39,284.56 55.85,282.90 54.50,281.83 56.23,281.75" fill="#111"/><polygon points="61.77,280.13 62.37,281.75 64.10,281.83 62.75,282.90 63.21,284.56 61.77,283.61 60.33,284.56 60.79,282.90 59.44,281.83 61.17,281.75" fill="#111"/><text x="8" y="324" font-size="7" text-anchor="middle" fill="#222" font-weight="normal" stroke="#222" stroke-width="0.22" transform="rotate(-90 8 324)" >Weight (mg)</text><text x="46.5" y="378.4" font-size="7.2" text-anchor="middle" fill="#4058a8" font-weight="normal" stroke="#4058a8" stroke-width="0.22" >CD25<tspan dy="-2.74" font-size="4.46">-</tspan><tspan dy="2.74">​</tspan></text><text x="46.5" y="386.4" font-size="7.2" text-anchor="middle" fill="#4058a8" font-weight="normal" stroke="#4058a8" stroke-width="0.22" >LSK</text><text x="72.6" y="378.4" font-size="7.2" text-anchor="middle" fill="#d8404a" font-weight="normal" stroke="#d8404a" stroke-width="0.22" >CD25<tspan dy="-2.74" font-size="4.46">+</tspan><tspan dy="2.74">​</tspan></text><text x="72.6" y="386.4" font-size="7.2" text-anchor="middle" fill="#d8404a" font-weight="normal" stroke="#d8404a" stroke-width="0.22" >LSK</text><text x="115.8" y="261.3" font-size="11.5" text-anchor="start" fill="#111" font-weight="bold" >F</text><text x="169.5" y="270.9" font-size="8.3" text-anchor="middle" fill="#111" font-weight="normal" stroke="#111" stroke-width="0.22" >Sp cell number</text><line x1="146.6" y1="368.7" x2="146.6" y2="283" stroke="#8a8a8a" stroke-width="0.9" /><line x1="146.6" y1="368.7" x2="201.5" y2="368.7" stroke="#8a8a8a" stroke-width="0.9" /><line x1="146.6" y1="368.7" x2="146.6" y2="371.0" stroke="#8a8a8a" stroke-width="0.9" /><line x1="174.3" y1="368.7" x2="174.3" y2="371.0" stroke="#8a8a8a" stroke-width="0.9" /><line x1="201.5" y1="368.7" x2="201.5" y2="371.0" stroke="#8a8a8a" stroke-width="0.9" /><line x1="144.0" y1="368.7" x2="146.6" y2="368.7" stroke="#8a8a8a" stroke-width="0.9" /><text x="141.2" y="371.3" font-size="7.2" text-anchor="end" fill="#333" font-weight="normal" stroke="#333" stroke-width="0.22" >0</text><line x1="144.0" y1="351.9" x2="146.6" y2="351.9" stroke="#8a8a8a" stroke-width="0.9" /><text x="141.2" y="354.5" font-size="7.2" text-anchor="end" fill="#333" font-weight="normal" stroke="#333" stroke-width="0.22" >2</text><line x1="144.0" y1="335.09999999999997" x2="146.6" y2="335.09999999999997" stroke="#8a8a8a" stroke-width="0.9" /><text x="141.2" y="337.7" font-size="7.2" text-anchor="end" fill="#333" font-weight="normal" stroke="#333" stroke-width="0.22" >4</text><line x1="144.0" y1="318.29999999999995" x2="146.6" y2="318.29999999999995" stroke="#8a8a8a" stroke-width="0.9" /><text x="141.2" y="320.9" font-size="7.2" text-anchor="end" fill="#333" font-weight="normal" stroke="#333" stroke-width="0.22" >6</text><line x1="144.0" y1="301.5" x2="146.6" y2="301.5" stroke="#8a8a8a" stroke-width="0.9" /><text x="141.2" y="304.1" font-size="7.2" text-anchor="end" fill="#333" font-weight="normal" stroke="#333" stroke-width="0.22" >8</text><line x1="144.0" y1="284.7" x2="146.6" y2="284.7" stroke="#8a8a8a" stroke-width="0.9" /><text x="141.2" y="287.3" font-size="7.2" text-anchor="end" fill="#333" font-weight="normal" stroke="#333" stroke-width="0.22" >10</text><rect x="155.4" y="339.972" width="11.099999999999994" height="28.72800000000001" fill="#0b3fc4" /><line x1="160.95" y1="339.972" x2="160.95" y2="333.41999999999996" stroke="#777" stroke-width="0.8" /><line x1="159.75" y1="333.41999999999996" x2="162.14999999999998" y2="333.41999999999996" stroke="#777" stroke-width="0.8" /><rect x="183.2" y="299.316" width="10.200000000000017" height="69.38400000000001" fill="#ff0000" /><line x1="188.3" y1="299.316" x2="188.3" y2="294.78" stroke="#777" stroke-width="0.8" /><line x1="187.10000000000002" y1="294.78" x2="189.5" y2="294.78" stroke="#777" stroke-width="0.8" /><path d="M161.1 326.2 V286.3 H187.6 V290.8" stroke="#333" stroke-width="0.9" fill="none" /><polygon points="171.73,280.73 172.33,282.35 174.06,282.43 172.71,283.50 173.17,285.16 171.73,284.21 170.29,285.16 170.75,283.50 169.40,282.43 171.13,282.35" fill="#111"/><polygon points="176.87,280.73 177.47,282.35 179.20,282.43 177.85,283.50 178.31,285.16 176.87,284.21 175.43,285.16 175.89,283.50 174.54,282.43 176.27,282.35" fill="#111"/><text x="127.4" y="326.4" font-size="7.4" text-anchor="middle" fill="#222" font-weight="normal" stroke="#222" stroke-width="0.22" transform="rotate(-90 127.4 326.4)" >Number of  cells (x10<tspan dy="-2.81" font-size="4.59">7</tspan><tspan dy="2.81">​</tspan>)</text><text x="161.2" y="378.4" font-size="7.2" text-anchor="middle" fill="#4058a8" font-weight="normal" stroke="#4058a8" stroke-width="0.22" >CD25<tspan dy="-2.74" font-size="4.46">-</tspan><tspan dy="2.74">​</tspan></text><text x="161.2" y="386.4" font-size="7.2" text-anchor="middle" fill="#4058a8" font-weight="normal" stroke="#4058a8" stroke-width="0.22" >LSK</text><text x="187.3" y="378.4" font-size="7.2" text-anchor="middle" fill="#d8404a" font-weight="normal" stroke="#d8404a" stroke-width="0.22" >CD25<tspan dy="-2.74" font-size="4.46">+</tspan><tspan dy="2.74">​</tspan></text><text x="187.3" y="386.4" font-size="7.2" text-anchor="middle" fill="#d8404a" font-weight="normal" stroke="#d8404a" stroke-width="0.22" >LSK</text><text x="233.8" y="261.3" font-size="11.5" text-anchor="start" fill="#111" font-weight="bold" >G</text><text x="291.5" y="270.9" font-size="8.3" text-anchor="middle" fill="#111" font-weight="normal" stroke="#111" stroke-width="0.22" >GFP<tspan dy="-3.04" font-size="4.96">+</tspan><tspan dy="3.04">​</tspan>/live cells (%)</text><line x1="266.4" y1="369" x2="266.4" y2="283.5" stroke="#8a8a8a" stroke-width="0.9" /><line x1="266.4" y1="369" x2="319.3" y2="369" stroke="#8a8a8a" stroke-width="0.9" /><line x1="266.4" y1="369" x2="266.4" y2="371.3" stroke="#8a8a8a" stroke-width="0.9" /><line x1="293.3" y1="369" x2="293.3" y2="371.3" stroke="#8a8a8a" stroke-width="0.9" /><line x1="319.3" y1="369" x2="319.3" y2="371.3" stroke="#8a8a8a" stroke-width="0.9" /><line x1="263.79999999999995" y1="369.0" x2="266.4" y2="369.0" stroke="#8a8a8a" stroke-width="0.9" /><text x="261" y="371.6" font-size="7.2" text-anchor="end" fill="#333" font-weight="normal" stroke="#333" stroke-width="0.22" >0</text><line x1="263.79999999999995" y1="352.3" x2="266.4" y2="352.3" stroke="#8a8a8a" stroke-width="0.9" /><text x="261" y="354.90000000000003" font-size="7.2" text-anchor="end" fill="#333" font-weight="normal" stroke="#333" stroke-width="0.22" >20</text><line x1="263.79999999999995" y1="335.6" x2="266.4" y2="335.6" stroke="#8a8a8a" stroke-width="0.9" /><text x="261" y="338.20000000000005" font-size="7.2" text-anchor="end" fill="#333" font-weight="normal" stroke="#333" stroke-width="0.22" >40</text><line x1="263.79999999999995" y1="318.9" x2="266.4" y2="318.9" stroke="#8a8a8a" stroke-width="0.9" /><text x="261" y="321.5" font-size="7.2" text-anchor="end" fill="#333" font-weight="normal" stroke="#333" stroke-width="0.22" >60</text><line x1="263.79999999999995" y1="302.2" x2="266.4" y2="302.2" stroke="#8a8a8a" stroke-width="0.9" /><text x="261" y="304.8" font-size="7.2" text-anchor="end" fill="#333" font-weight="normal" stroke="#333" stroke-width="0.22" >80</text><line x1="263.79999999999995" y1="285.5" x2="266.4" y2="285.5" stroke="#8a8a8a" stroke-width="0.9" /><text x="261" y="288.1" font-size="7.2" text-anchor="end" fill="#333" font-weight="normal" stroke="#333" stroke-width="0.22" >100</text><rect x="275.5" y="329.5045" width="10.899999999999977" height="39.49549999999999" fill="#0b3fc4" /><line x1="280.95" y1="329.5045" x2="280.95" y2="318.4825" stroke="#777" stroke-width="0.8" /><line x1="279.75" y1="318.4825" x2="282.15" y2="318.4825" stroke="#777" stroke-width="0.8" /><rect x="302.7" y="302.701" width="11.0" height="66.29899999999998" fill="#ff0000" /><line x1="308.2" y1="302.701" x2="308.2" y2="299.695" stroke="#777" stroke-width="0.8" /><line x1="307.0" y1="299.695" x2="309.4" y2="299.695" stroke="#777" stroke-width="0.8" /><path d="M281 314.2 V285.5 H308.2 V297" stroke="#333" stroke-width="0.9" fill="none" /><polygon points="292.83,279.38 293.43,281.00 295.16,281.08 293.81,282.15 294.27,283.81 292.83,282.86 291.39,283.81 291.85,282.15 290.50,281.08 292.23,281.00" fill="#111"/><polygon points="297.87,279.38 298.47,281.00 300.20,281.08 298.85,282.15 299.31,283.81 297.87,282.86 296.43,283.81 296.89,282.15 295.54,281.08 297.27,281.00" fill="#111"/><text x="245" y="319.4" font-size="7.6" text-anchor="middle" fill="#222" font-weight="normal" stroke="#222" stroke-width="0.22" transform="rotate(-90 245 319.4)" >Frequency (%)</text><text x="281" y="378.4" font-size="7.2" text-anchor="middle" fill="#4058a8" font-weight="normal" stroke="#4058a8" stroke-width="0.22" >CD25<tspan dy="-2.74" font-size="4.46">-</tspan><tspan dy="2.74">​</tspan></text><text x="281" y="386.4" font-size="7.2" text-anchor="middle" fill="#4058a8" font-weight="normal" stroke="#4058a8" stroke-width="0.22" >LSK</text><text x="308.6" y="378.4" font-size="7.2" text-anchor="middle" fill="#d8404a" font-weight="normal" stroke="#d8404a" stroke-width="0.22" >CD25<tspan dy="-2.74" font-size="4.46">+</tspan><tspan dy="2.74">​</tspan></text><text x="308.6" y="386.4" font-size="7.2" text-anchor="middle" fill="#d8404a" font-weight="normal" stroke="#d8404a" stroke-width="0.22" >LSK</text><text x="365.2" y="261.6" font-size="11.5" text-anchor="start" fill="#111" font-weight="bold" >H</text><rect x="399" y="264.8" width="118.8" height="103.7" fill="none" stroke="#aaa" stroke-width="0.8"/><line x1="397.4" y1="268.9" x2="399" y2="268.9" stroke="#999" stroke-width="0.6" /><text x="395.5" y="270.4" font-size="4.4" text-anchor="end" fill="#444" font-weight="normal" stroke="#444" stroke-width="0.22" >0.0</text><line x1="397.4" y1="286.09999999999997" x2="399" y2="286.09999999999997" stroke="#999" stroke-width="0.6" /><text x="395.5" y="287.59999999999997" font-size="4.4" text-anchor="end" fill="#444" font-weight="normal" stroke="#444" stroke-width="0.22" >-0.5</text><line x1="397.4" y1="303.29999999999995" x2="399" y2="303.29999999999995" stroke="#999" stroke-width="0.6" /><text x="395.5" y="304.79999999999995" font-size="4.4" text-anchor="end" fill="#444" font-weight="normal" stroke="#444" stroke-width="0.22" >-1.0</text><line x1="397.4" y1="320.5" x2="399" y2="320.5" stroke="#999" stroke-width="0.6" /><text x="395.5" y="322.0" font-size="4.4" text-anchor="end" fill="#444" font-weight="normal" stroke="#444" stroke-width="0.22" >-1.5</text><line x1="397.4" y1="337.7" x2="399" y2="337.7" stroke="#999" stroke-width="0.6" /><text x="395.5" y="339.2" font-size="4.4" text-anchor="end" fill="#444" font-weight="normal" stroke="#444" stroke-width="0.22" >-2.0</text><line x1="397.4" y1="354.9" x2="399" y2="354.9" stroke="#999" stroke-width="0.6" /><text x="395.5" y="356.4" font-size="4.4" text-anchor="end" fill="#444" font-weight="normal" stroke="#444" stroke-width="0.22" >-2.5</text><line x1="402.8" y1="368.5" x2="402.8" y2="370.2" stroke="#999" stroke-width="0.6" /><text x="402.8" y="377.6" font-size="4.4" text-anchor="middle" fill="#444" font-weight="normal" stroke="#444" stroke-width="0.22" >0</text><line x1="418.38" y1="368.5" x2="418.38" y2="370.2" stroke="#999" stroke-width="0.6" /><text x="418.38" y="377.6" font-size="4.4" text-anchor="middle" fill="#444" font-weight="normal" stroke="#444" stroke-width="0.22" >1000</text><line x1="433.96000000000004" y1="368.5" x2="433.96000000000004" y2="370.2" stroke="#999" stroke-width="0.6" /><text x="433.96000000000004" y="377.6" font-size="4.4" text-anchor="middle" fill="#444" font-weight="normal" stroke="#444" stroke-width="0.22" >2000</text><line x1="449.54" y1="368.5" x2="449.54" y2="370.2" stroke="#999" stroke-width="0.6" /><text x="449.54" y="377.6" font-size="4.4" text-anchor="middle" fill="#444" font-weight="normal" stroke="#444" stroke-width="0.22" >3000</text><line x1="465.12" y1="368.5" x2="465.12" y2="370.2" stroke="#999" stroke-width="0.6" /><text x="465.12" y="377.6" font-size="4.4" text-anchor="middle" fill="#444" font-weight="normal" stroke="#444" stroke-width="0.22" >4000</text><line x1="480.70000000000005" y1="368.5" x2="480.70000000000005" y2="370.2" stroke="#999" stroke-width="0.6" /><text x="480.70000000000005" y="377.6" font-size="4.4" text-anchor="middle" fill="#444" font-weight="normal" stroke="#444" stroke-width="0.22" >5000</text><line x1="496.28000000000003" y1="368.5" x2="496.28000000000003" y2="370.2" stroke="#999" stroke-width="0.6" /><text x="496.28000000000003" y="377.6" font-size="4.4" text-anchor="middle" fill="#444" font-weight="normal" stroke="#444" stroke-width="0.22" >6000</text><line x1="511.86" y1="368.5" x2="511.86" y2="370.2" stroke="#999" stroke-width="0.6" /><text x="511.86" y="377.6" font-size="4.4" text-anchor="middle" fill="#444" font-weight="normal" stroke="#444" stroke-width="0.22" >7000</text><text x="451.4" y="386.9" font-size="4.4" text-anchor="middle" fill="#333" font-weight="normal" stroke="#333" stroke-width="0.22" >dose (number of cells)</text><text x="383.4" y="317.8" font-size="4.1" text-anchor="middle" fill="#333" font-weight="normal" stroke="#333" stroke-width="0.22" transform="rotate(-90 383.4 317.8)" >log fraction nonresponding</text><clipPath id="hc"><rect x="399" y="264.8" width="118.8" height="103.7"/></clipPath><g clip-path="url(#hc)"><line x1="402.8" y1="268.9" x2="517.8" y2="277.0567425569177" stroke="#4a4ab8" stroke-width="0.9" stroke-dasharray="2.1 2"/><line x1="402.8" y1="268.9" x2="517.8" y2="290.2485113835377" stroke="#4a4ad8" stroke-width="1.0" /><line x1="402.8" y1="268.9" x2="517.8" y2="325.88568872987474" stroke="#4a4ab8" stroke-width="0.9" stroke-dasharray="2.1 2"/><line x1="402.8" y1="268.9" x2="517.8" y2="353.1197035745422" stroke="#dc5a5a" stroke-width="0.9" stroke-dasharray="2.1 2"/><line x1="402.8" y1="268.9" x2="517.8" y2="480.2284132841328" stroke="#cc4848" stroke-width="0.9" /><line x1="402.8" y1="268.9" x2="517.8" y2="799.1777777777785" stroke="#dc5a5a" stroke-width="0.9" stroke-dasharray="2.1 2"/><circle cx="512.8" cy="292.4" r="1.4" fill="none" stroke="#5050c0" stroke-width="0.5"/><path d="M510.5 363.8 L515 363.8 L512.8 367.4 Z" stroke="#d04040" stroke-width="0.5" fill="none" /><path d="M400.5 266.5 L404.5 266.5 L402.5 270 Z" stroke="#333" stroke-width="0.5" fill="none" /><circle cx="414" cy="269.5" r="1.3" fill="none" stroke="#5050c0" stroke-width="0.5"/><path d="M412 284 L416 284 L414 287.4 Z" stroke="#d04040" stroke-width="0.5" fill="none" /></g><text x="474.6" y="295.4" font-size="6.0" text-anchor="start" fill="#4058a8" font-weight="normal" stroke="#4058a8" stroke-width="0.22" >CD25<tspan dy="-2.28" font-size="3.72">-</tspan><tspan dy="2.28">​</tspan>LSK:</text><text x="475.2" y="302.6" font-size="6.0" text-anchor="start" fill="#222" font-weight="normal" stroke="#222" stroke-width="0.22" >1 in 11693 cells</text><text x="458" y="352.4" font-size="6.0" text-anchor="start" fill="#d8404a" font-weight="normal" stroke="#d8404a" stroke-width="0.22" >CD25<tspan dy="-2.28" font-size="3.72">+</tspan><tspan dy="2.28">​</tspan>LSK:</text><text x="458" y="359.9" font-size="6.0" text-anchor="start" fill="#222" font-weight="normal" stroke="#222" stroke-width="0.22" >1 in 1202 cells</text><text x="458" y="366.6" font-size="6.0" text-anchor="start" fill="#222" font-weight="normal" stroke="#222" stroke-width="0.22" >(<tspan font-style="italic">P</tspan>=0.0003)</text>
</svg>
</body></html>
